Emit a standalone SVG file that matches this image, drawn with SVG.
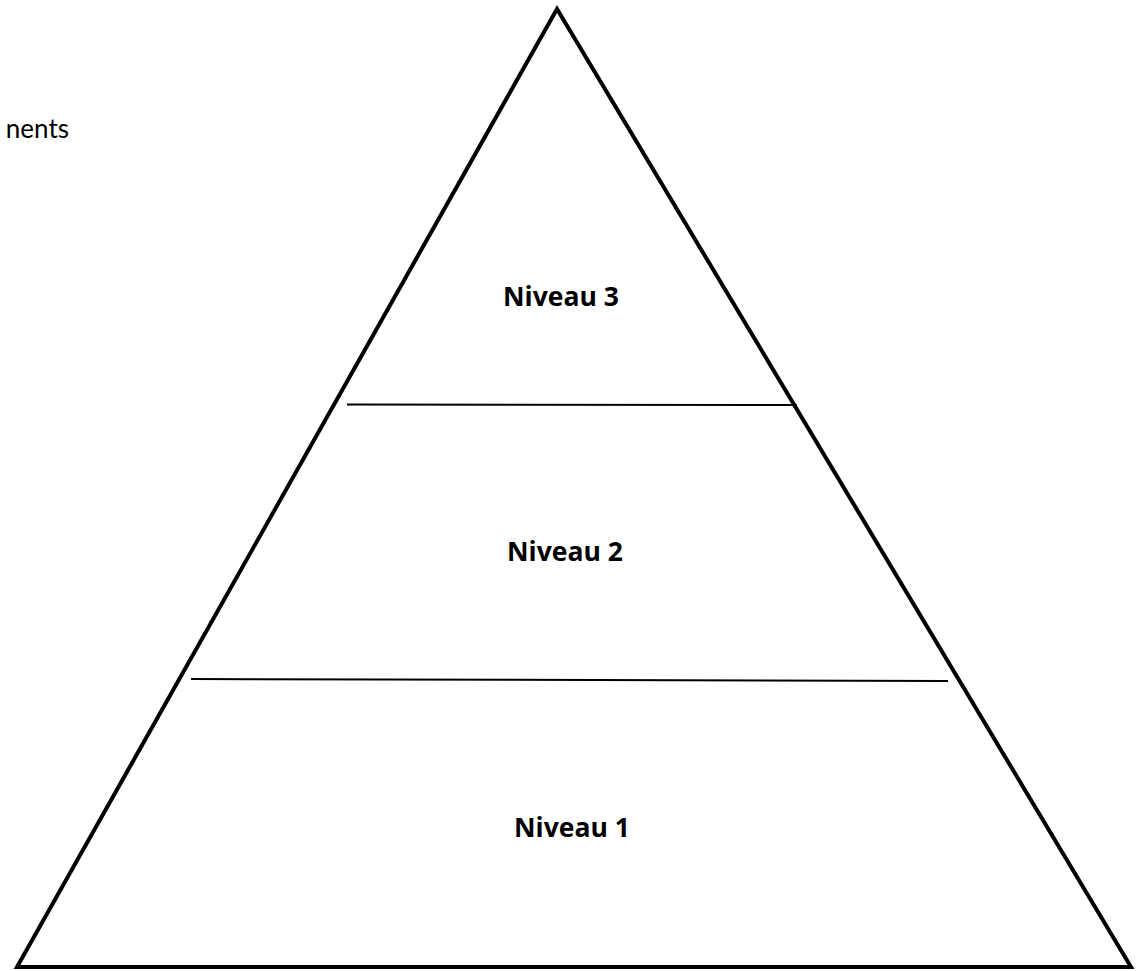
<svg xmlns="http://www.w3.org/2000/svg" width="1140" height="971" viewBox="0 0 1140 971">
<style>
.edge{fill:none;stroke:#000;stroke-linecap:butt}
.lbl{font-family:"Open Sans","Liberation Sans",sans-serif;font-weight:bold;font-size:26.5px;fill:#000;text-anchor:middle}
.side{font-family:"Lato","Liberation Sans",sans-serif;font-weight:normal;font-size:26px;fill:#000;text-anchor:end}
</style>
<rect width="1140" height="971" fill="#fff"/>
<g id="pyramid">
<polygon points="557,9 17,967 1131,967" fill="none" stroke="#000" stroke-width="4" stroke-linejoin="miter"/>
</g>
<g id="connectors">
<line class="edge" x1="347" y1="404.5" x2="797" y2="405" stroke-width="2"/>
<line class="edge" x1="191" y1="679" x2="948" y2="681" stroke-width="2"/>
</g>
<g id="level3"><text class="lbl" x="561" y="306">Niveau 3</text></g>
<g id="level2"><text class="lbl" x="565" y="561">Niveau 2</text></g>
<g id="level1"><text class="lbl" x="572" y="837">Niveau 1</text></g>
<g id="side-label"><text class="side" x="69" y="138">nents</text></g>
</svg>
